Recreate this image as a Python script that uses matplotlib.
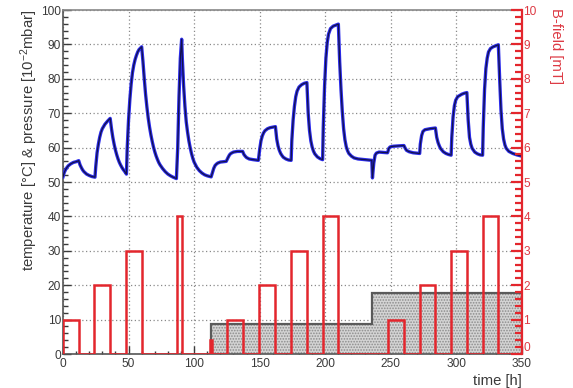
import matplotlib
matplotlib.use("Agg")
import matplotlib.pyplot as plt
from matplotlib.ticker import MultipleLocator

plt.rcParams['font.family'] = ['Liberation Sans', 'DejaVu Sans']
plt.rcParams['mathtext.fontset'] = 'custom'
plt.rcParams['mathtext.rm'] = 'Liberation Sans'
plt.rcParams['mathtext.default'] = 'regular'
plt.rcParams['hatch.linewidth'] = 0.8

# temperature / pressure trace (left axis)
time_h = [0, 1, 2, 3, 4, 6, 8, 10, 12,
          13, 14, 15, 16, 18, 20, 22, 24.4,
          25, 26, 27, 28, 29, 30, 32, 34, 36,
          37, 38, 39, 40, 41, 42, 43, 44, 45, 46, 47, 48.4,
          49, 50, 51, 52, 53, 54, 55, 56, 57, 58, 60,
          61, 62, 63, 64, 65, 66, 67, 68, 69, 70, 71, 72, 73, 74, 76, 78, 80, 82, 84, 86.5,
          87.5, 88.5, 89.5, 90.5,
          91, 92, 93, 94, 95, 96, 97, 98, 99, 100, 102, 104, 106, 108, 110, 113,
          114, 115, 116, 117, 118, 120, 122, 124.5,
          126, 127, 128, 130, 133, 137,
          138, 139, 140, 142, 145, 149,
          150, 151, 152, 153, 154, 156, 158, 162,
          163, 164, 165, 166, 167, 168, 170, 172, 174,
          174.5, 175.5, 176.5, 177.5, 178.5, 180, 182, 184, 186,
          187, 188, 189, 190, 191, 192, 194, 196, 198,
          198.5, 199.5, 200.5, 201.5, 202.5, 204, 206, 208, 210,
          211, 212, 213, 214, 215, 216, 217, 218, 220, 222, 225, 230, 235.5,
          236, 237, 238, 239, 241, 244, 247.5,
          248.5, 249.5, 252, 256, 260,
          261, 262, 264, 267, 272,
          272.5, 273.5, 274.5, 276, 280, 284,
          285, 286, 287, 288, 290, 292, 294, 296,
          296.5, 297.5, 298.5, 299.5, 301, 304, 306, 308,
          309, 310, 311, 312, 314, 316, 318, 320,
          320.5, 321.5, 322.5, 323.5, 324.5, 326, 328, 330, 332,
          333, 334, 335, 336, 337, 338, 340, 343, 346, 350]
temp_pressure = [51.5, 52.8, 53.6, 54.2, 54.7, 55.3, 55.7, 55.9, 56.2,
                 55.0, 54.2, 53.5, 53.0, 52.3, 51.9, 51.6, 51.4,
                 54.5, 58.5, 61.0, 63.0, 64.5, 65.5, 66.8, 67.7, 68.5,
                 65.5, 63.0, 61.0, 59.3, 57.9, 56.7, 55.7, 54.9, 54.2, 53.6, 53.1, 52.3,
                 60.0, 68.0, 74.0, 78.5, 81.8, 84.0, 85.6, 86.8, 87.8, 88.5, 89.3,
                 85.0, 80.0, 75.5, 71.8, 68.6, 66.0, 63.8, 61.9, 60.2, 58.8, 57.6, 56.6, 55.7, 55.0, 53.9, 53.0, 52.3, 51.8, 51.4, 51.0,
                 60.0, 75.0, 86.0, 91.5,
                 86.0, 78.0, 72.0, 67.5, 64.5, 62.0, 60.0, 58.3, 56.9, 55.8, 54.3, 53.3, 52.6, 52.1, 51.8, 51.5,
                 52.8, 54.0, 54.8, 55.2, 55.5, 55.8, 55.9, 56.0,
                 57.2, 57.9, 58.3, 58.7, 58.9, 58.9,
                 58.0, 57.5, 57.1, 56.7, 56.5, 56.3,
                 59.5, 62.0, 63.4, 64.3, 64.9, 65.5, 65.8, 66.1,
                 62.5, 60.5, 59.2, 58.3, 57.7, 57.2, 56.7, 56.4, 56.3,
                 62.0, 68.0, 72.0, 74.8, 76.4, 77.6, 78.3, 78.7, 78.9,
                 70.0, 65.0, 62.0, 60.2, 59.0, 58.2, 57.3, 56.8, 56.5,
                 66.0, 78.0, 86.0, 90.5, 93.0, 94.6, 95.3, 95.6, 95.9,
                 85.0, 77.0, 70.5, 65.5, 62.3, 60.3, 59.1, 58.3, 57.5, 57.0, 56.7, 56.5, 56.3,
                 51.2, 55.5, 57.8, 58.4, 58.7, 58.6, 58.5,
                 59.8, 60.2, 60.4, 60.5, 60.6,
                 59.8, 59.2, 58.8, 58.5, 58.3,
                 61.0, 63.5, 64.7, 65.2, 65.5, 65.7,
                 63.0, 61.5, 60.5, 59.7, 58.8, 58.3, 58.0, 57.8,
                 63.0, 69.0, 72.2, 73.8, 74.8, 75.5, 75.8, 76.0,
                 68.0, 63.0, 61.0, 59.8, 58.7, 58.2, 57.9, 57.8,
                 66.0, 77.0, 83.0, 86.0, 87.8, 88.8, 89.3, 89.6, 89.9,
                 80.0, 71.0, 65.5, 62.5, 60.8, 59.8, 58.9, 58.3, 57.9, 57.5]

# gray histogram (left axis)
gray_edges = [113, 236, 350]
gray_values = [8.7, 17.6]

# B-field steps in mT (right axis)
field_edges = [0, 12, 24, 36, 48, 60, 87, 90.5, 112.5, 113.5, 125, 137, 149.5, 162,
               174, 186, 198, 210, 248, 260, 272, 284, 296, 308, 320, 332, 350]
field_values = [1, 0, 2, 0, 3, 0, 4, 0, 0.4, 0, 1, 0, 2, 0, 3, 0, 4, 0,
                1, 0, 2, 0, 3, 0, 4, 0]

RED = '#e3262d'
RED_TXT = '#dd3a44'
DARK = '#3a3a3a'

fig = plt.figure(figsize=(5.73, 3.88), dpi=100)
ax = fig.add_axes([0.1099, 0.0876, 0.801, 0.8866])
ax.set_xlim(0, 350)
ax.set_ylim(0, 100)

ax.stairs(gray_values, gray_edges, fill=True, facecolor='#d4d4d4',
          edgecolor='#8c8c8c', hatch='......', linewidth=0, zorder=2)
ax.stairs(gray_values, gray_edges, color='#5a5a5a', linewidth=1.6, zorder=3,
          baseline=0)

ax.plot(time_h, temp_pressure, color='#2b2bea', linewidth=2.4, zorder=5,
        solid_joinstyle='round')
ax.plot(time_h, temp_pressure, color='#12124a', linewidth=0.9, zorder=6,
        solid_joinstyle='round')

ax.xaxis.set_major_locator(MultipleLocator(50))
ax.xaxis.set_minor_locator(MultipleLocator(10))
ax.yaxis.set_major_locator(MultipleLocator(10))
ax.yaxis.set_minor_locator(MultipleLocator(2))
ax.grid(True, which='major', color='#8a8a8a', linestyle=(0, (1, 2)), linewidth=0.9)
ax.set_axisbelow(True)

ax.tick_params(axis='both', which='both', direction='in', colors=DARK,
               labelsize=8.6)
ax.tick_params(axis='y', which='major', length=6, width=1.0, pad=1.5)
ax.tick_params(axis='y', which='minor', length=3.5, width=1.0)
ax.tick_params(axis='x', which='major', length=6, width=1.0, pad=3)
ax.tick_params(axis='x', which='minor', length=2.5, width=1.0)
ax.tick_params(right=False, top=False, which='both')

for side in ('left', 'bottom'):
    ax.spines[side].set_color('#555555')
    ax.spines[side].set_linewidth(1.2)
ax.spines['top'].set_color('#888888')
ax.spines['top'].set_linewidth(1.2)
ax.spines['right'].set_visible(False)

ax2 = ax.twinx()
ax2.set_ylim(0, 10)
ax2.stairs(field_values, field_edges, color=RED, linewidth=1.8, zorder=4)
ax2.yaxis.set_major_locator(MultipleLocator(1))
ax2.yaxis.set_minor_locator(MultipleLocator(0.2))
ax2.tick_params(axis='y', which='both', direction='in', colors=RED,
                labelcolor=RED_TXT, labelsize=8.6, pad=1)
ax2.tick_params(axis='y', which='major', length=8, width=1.6)
ax2.tick_params(axis='y', which='minor', length=5, width=1.6)
ax2.spines['right'].set_color(RED)
ax2.spines['right'].set_linewidth(1.6)
for side in ('left', 'top', 'bottom'):
    ax2.spines[side].set_visible(False)
# lift the bottom right-axis label clear of the time-axis labels
for lab in ax2.get_yticklabels():
    if lab.get_text() == '0':
        lab.set_verticalalignment('bottom')

ax.set_xlabel('time [h]', loc='right', fontsize=10.7, color=DARK, labelpad=3)
ax.set_ylabel('temperature [°C] & pressure [10$^{-2}$mbar]', loc='top',
              fontsize=10.7, color=DARK, labelpad=1)
fig.text(556 / 573, 1 - 8 / 388, 'B-field [mT]', rotation=270, ha='center',
         va='top', fontsize=10.7, color=RED_TXT)

fig.savefig('out.png', dpi=100)
